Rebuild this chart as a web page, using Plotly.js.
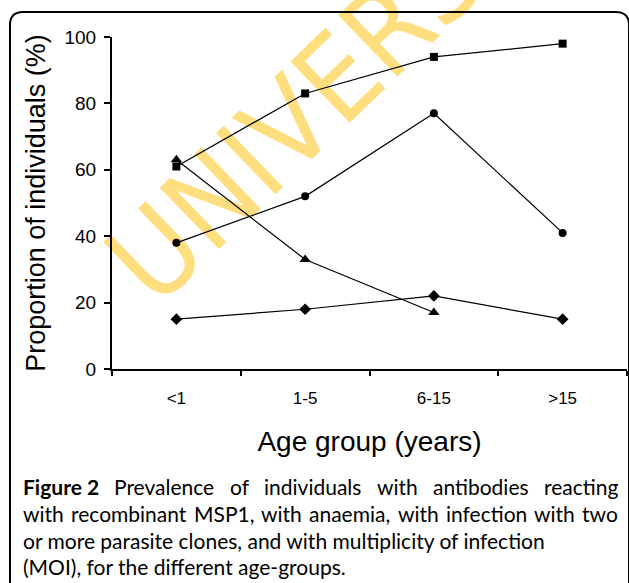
<!DOCTYPE html>
<html><head><meta charset="utf-8">
<script src="https://cdn.plot.ly/plotly-3.0.1.min.js"></script>
<style>html,body{margin:0;padding:0;background:#fff}</style>
</head><body>
<div id="chart" style="width:629px;height:583px"></div>
<script>
// ---- data ----
const categories = ['<1', '1-5', '6-15', '>15'];
const seriesSquare = [61, 83, 94, 98];
const seriesCircle = [38, 52, 77, 41];
const seriesTriangle = [63, 33, 17, null];
const seriesDiamond = [15, 18, 22, 15];
const yTickVals = [0, 20, 40, 60, 80, 100];
const captionLabel = 'Figure 2';
const captionLines = [
  'Prevalence of individuals with antibodies reacting',
  'with recombinant MSP1, with anaemia, with infection with two',
  'or more parasite clones, and with multiplicity of infection',
  '(MOI), for the different age-groups.'
];
const watermarkText = 'UNIVERSITY';

// ---- geometry helpers (pixel -> paper) ----
const L = 112, T = 37, W = 515, H = 332;
const px = x => (x - L) / W;
const py = y => (T + H - y) / H;

function trace(y, symbol, size) {
  return {
    x: categories, y: y, type: 'scatter', mode: 'lines+markers',
    line: {color: '#000', width: 1.2},
    marker: {symbol: symbol, size: size, color: '#000'},
    connectgaps: false, hoverinfo: 'skip'
  };
}
const data = [
  trace(seriesSquare, 'square', 8),
  trace(seriesCircle, 'circle', 8),
  trace(seriesTriangle, 'triangle-up', 10),
  trace(seriesDiamond, 'diamond', 9)
];

// rounded border path
const bx0 = 10, by0 = 12, bx1 = 629, by1 = 600, r = 13;
const borderPath = [
  'M', px(bx0), py(by1),
  'L', px(bx0), py(by0 + r),
  'Q', px(bx0), py(by0), px(bx0 + r), py(by0),
  'L', px(bx1 - r), py(by0),
  'Q', px(bx1), py(by0), px(bx1), py(by0 + r),
  'L', px(bx1), py(by1)
].join(' ');

const ctx = document.createElement('canvas').getContext('2d');
function measureWith(font, t) { ctx.font = font; return ctx.measureText(t).width; }

// ---- caption: first two lines justified to the reference line extent ----
const capFamily = 'Lato';
const capSize = 21;
const capX0 = 22;
const capRight = [617, 617, null, null];
const capY = [486, 513, 540, 566];
function measure(t, bold) {
  return measureWith((bold ? 'bold ' : '') + capSize + 'px ' + capFamily, t);
}
const annotations = [];
captionLines.forEach((line, i) => {
  if (capRight[i] === null) {
    annotations.push({
      text: line, xref: 'paper', yref: 'paper', x: px(capX0), y: py(capY[i]),
      xanchor: 'left', yanchor: 'middle', showarrow: false, borderpad: 0,
      font: {family: capFamily, size: capSize, color: '#000'}
    });
    return;
  }
  const words = line.split(' ').map(w => ({t: w, b: false}));
  if (i === 0) words.unshift({t: captionLabel, b: true});
  const widths = words.map(w => measure(w.t, w.b));
  const total = widths.reduce((a, b) => a + b, 0);
  const gap = (capRight[i] - capX0 - total) / (words.length - 1);
  let x = capX0;
  words.forEach((w, k) => {
    annotations.push({
      text: w.b ? '<b>' + w.t + '</b>' : w.t,
      xref: 'paper', yref: 'paper', x: px(x), y: py(capY[i]),
      xanchor: 'left', yanchor: 'middle', showarrow: false,
      borderpad: 0, font: {family: capFamily, size: capSize, color: '#000'}
    });
    x += widths[k] + gap;
  });
});

// ---- watermark: condensed face if installed, else regular ----
const condTest = measureWith('40px "DejaVu Sans Condensed", monospace', 'UNIVERSITY mmm');
const monoTest = measureWith('40px monospace', 'UNIVERSITY mmm');
const hasCond = Math.abs(condTest - monoTest) > 1;
const wmFamily = hasCond ? '"DejaVu Sans Condensed"' : '"Liberation Sans"';
const wmSize = hasCond ? 117 : 110;
const wmAngle = 44;                       // degrees, text rising to the right
const wmU = [150, 248];                   // centre of the first letter in the reference
const wmFull = measureWith(wmSize + 'px ' + wmFamily, watermarkText);
const wmFirst = measureWith(wmSize + 'px ' + wmFamily, watermarkText[0]);
const wmDir = [Math.cos(wmAngle * Math.PI / 180), -Math.sin(wmAngle * Math.PI / 180)];
const wmShift = wmFull / 2 - wmFirst / 2;
const wmCx = wmU[0] + wmDir[0] * wmShift, wmCy = wmU[1] + wmDir[1] * wmShift;

const shapes = [
  {
    type: 'rect', layer: 'below', xref: 'paper', yref: 'paper',
    x0: px(wmCx - 1), x1: px(wmCx + 1), y0: py(wmCy + 1), y1: py(wmCy - 1),
    line: {width: 0, color: 'rgba(0,0,0,0)'}, fillcolor: 'rgba(0,0,0,0)',
    label: {text: watermarkText, textangle: -wmAngle, textposition: 'middle center',
      font: {family: wmFamily, size: wmSize, color: '#FFDE80'}}
  },
  {
    type: 'path', layer: 'above', xref: 'paper', yref: 'paper', path: borderPath,
    line: {color: '#000', width: 2}
  }
];

const layout = {
  width: 629, height: 583,
  margin: {l: L, r: 629 - L - W, t: T, b: 583 - T - H, pad: 0},
  paper_bgcolor: '#fff', plot_bgcolor: 'rgba(0,0,0,0)',
  showlegend: false,
  font: {family: '"Liberation Sans", Arial, sans-serif', color: '#000'},
  xaxis: {
    type: 'category', range: [-0.5, 3.5], tickson: 'boundaries',
    ticks: 'outside', ticklen: 5, tickwidth: 2, tickcolor: '#000',
    showline: true, linewidth: 2, linecolor: '#000',
    showgrid: false, zeroline: false, fixedrange: true,
    tickfont: {size: 17, color: '#000'}, ticklabelstandoff: 13,
    title: {text: 'Age group (years)', font: {size: 28, color: '#000'}, standoff: 24}
  },
  yaxis: {
    range: [0, 100], tickmode: 'array', tickvals: yTickVals,
    ticks: 'outside', ticklen: 6, tickwidth: 2, tickcolor: '#000',
    showline: true, linewidth: 2, linecolor: '#000',
    showgrid: false, zeroline: false, fixedrange: true,
    tickfont: {size: 19, color: '#000'}, ticklabelstandoff: 4,
    title: {text: 'Proportion of individuals (%)', font: {size: 27, color: '#000'}, standoff: 11}
  },
  shapes: shapes,
  annotations: annotations
};

Plotly.newPlot('chart', data, layout, {displayModeBar: false, staticPlot: true});
</script>
</body></html>
